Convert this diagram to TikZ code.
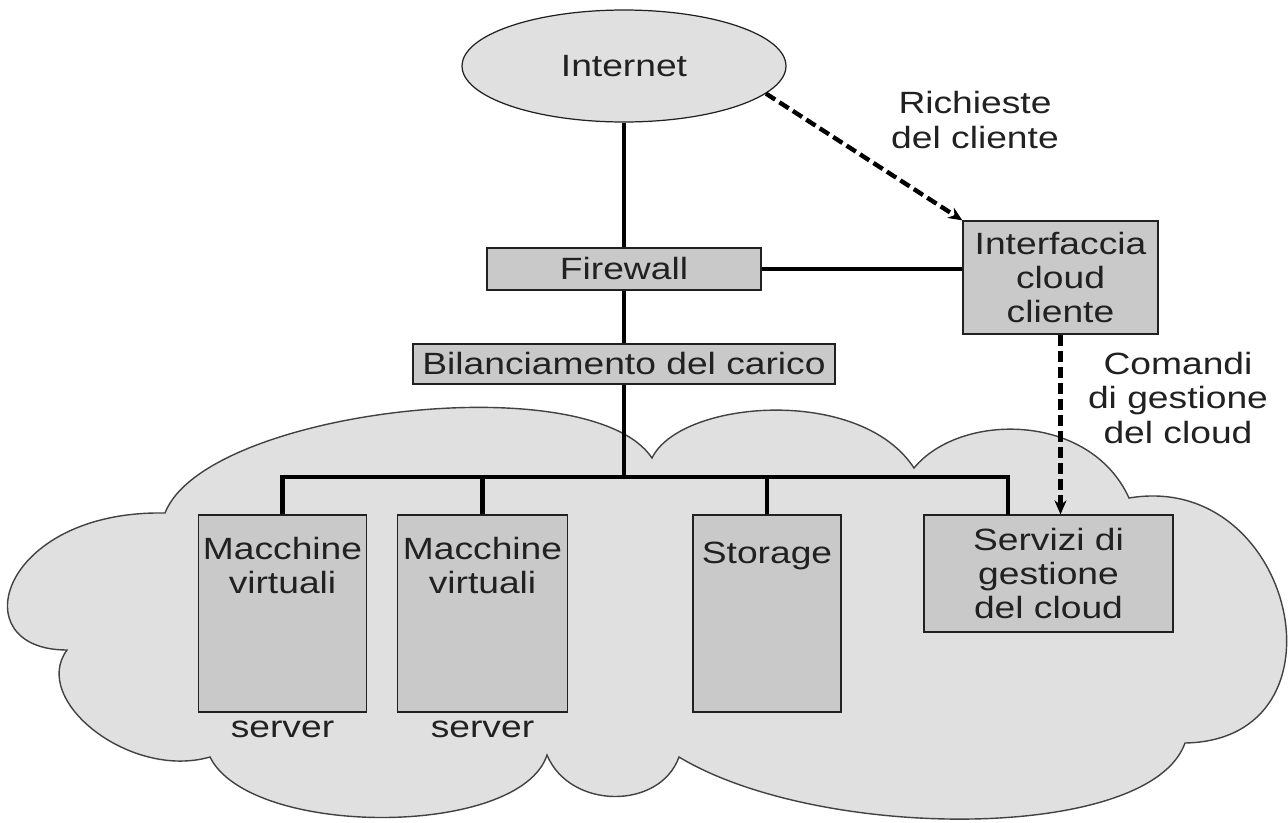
\documentclass[tikz,border=0pt]{standalone}
\usepackage{fontspec}
\setmainfont{Liberation Sans}[FakeStretch=1.21]
\usetikzlibrary{arrows.meta,positioning,shapes.geometric}
\definecolor{cloudfill}{gray}{0.88}
\definecolor{boxfill}{gray}{0.79}
\definecolor{inkgray}{gray}{0.13}
\begin{document}
\begin{tikzpicture}[x=.02cm,y=-.02cm,line width=.7pt,
  every node/.style={font=\fontsize{17.5}{19.6}\selectfont,inner sep=0pt,text=inkgray},
  box/.style={draw=inkgray,fill=boxfill,line width=.7pt,align=center},
  link/.style={line width=2.6pt},
  cmd/.style={line width=2.5pt,dash pattern=on .22cm off .1cm,-{Stealth[length=.28cm,width=.24cm]}}]
  \path[use as bounding box] (0,0) rectangle (1288,822);
  \draw[draw=inkgray!85,fill=cloudfill,line width=.8pt] (165,513)
    .. controls (205,410) and (590,365) .. (652,458)
    .. controls (680,400) and (860,385) .. (914,468)
    .. controls (960,412) and (1090,412) .. (1129,498)
    .. controls (1295,470) and (1355,740) .. (1185,743)
    .. controls (1150,842) and (820,842) .. (679,757)
    .. controls (660,810) and (570,810) .. (547,755)
    .. controls (520,838) and (250,838) .. (210,757)
    .. controls (130,780) and (30,700) .. (67,650)
    .. controls (-40,650) and (0,510) .. cycle;
  \node[ellipse,draw=inkgray,fill=cloudfill,minimum width=6.48cm,minimum height=2.24cm] (inet) at (624,66) {Internet};
  \node[box,minimum width=5.48cm,minimum height=.84cm] (fw) at (624,269) {Firewall};
  \node[box,minimum width=3.9cm,minimum height=2.26cm] (iface) at (1060.5,277.5) {Interfaccia\\cloud\\cliente};
  \node[box,minimum width=8.44cm,minimum height=.8cm] (lb) at (624,364) {Bilanciamento del carico};
  \node[box,minimum width=3.36cm,minimum height=3.94cm] (vm1) at (282.5,613.5) {};
  \node[box,minimum width=3.4cm,minimum height=3.94cm] (vm2) at (482.5,613.5) {};
  \node[box,minimum width=2.96cm,minimum height=3.94cm] (sto) at (767,613.5) {};
  \node[box,minimum width=4.98cm,minimum height=2.34cm] (svc) at (1048.5,573.5) {Servizi di\\gestione\\del cloud};
  \node[below=.44cm of vm1.north,align=center] (vm1t) {Macchine\\virtuali};
  \node[below=.44cm of vm2.north,align=center] (vm2t) {Macchine\\virtuali};
  \node[below=.54cm of sto.north] (stot) {Storage};
  \node[below=.16cm of vm1.south] (vm1s) {server};
  \node[below=.16cm of vm2.south] (vm2s) {server};
  \node[align=center] (reqlbl) at (975,120) {Richieste\\del cliente};
  \node[align=center] (cmdlbl) at (1178,398) {Comandi\\di gestione\\del cloud};
  \coordinate (bj) at (624,477);
  \coordinate (svcin) at (1008,515);
  \draw[link] (inet) -- (fw) -- (lb) -- (bj);
  \draw[link] (fw) -- (fw -| iface.west);
  \draw[link] (vm1) |- (bj) -| (svcin);
  \draw[link] (vm2) -- (vm2 |- bj);
  \draw[link] (sto) -- (sto |- bj);
  \draw[cmd] (inet.-11) -- (iface.north west);
  \draw[cmd] (iface) -- (iface |- svc.north);
\end{tikzpicture}
\end{document}
